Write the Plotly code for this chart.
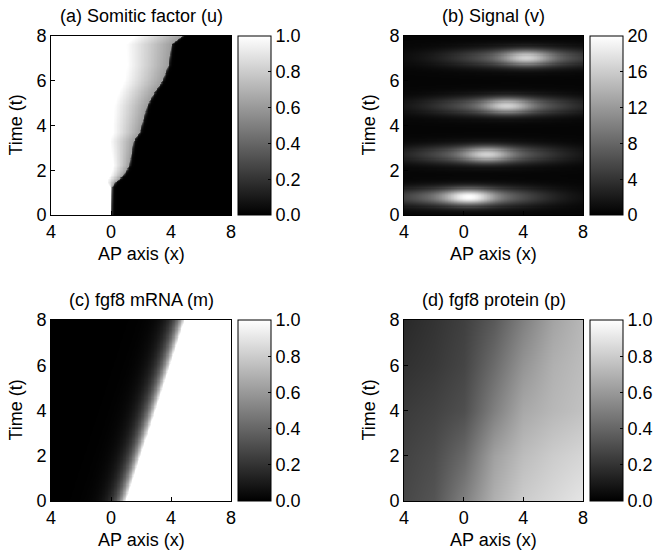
import numpy as np
import plotly.graph_objects as go

# ---- axis grids / tick labels ----
x_ticks = [-4, 0, 4, 8]
x_ticktext = ["4", "0", "4", "8"]
t_ticks = [0, 2, 4, 6, 8]
titles = ["(a) Somitic factor (u)", "(b) Signal (v)", "(c) fgf8 mRNA (m)", "(d) fgf8 protein (p)"]

# ---- (a) somitic factor: black front position ----
u_front_t = [0.0, 1.2, 1.45, 1.75, 2.2, 3.3, 3.7, 4.9, 5.4, 6.0, 6.7, 7.6, 8.0]
u_front_x = [0.0, 0.05, 0.27, 0.8, 1.2, 1.5, 1.9, 2.4, 2.8, 3.4, 3.8, 4.0, 4.7]
u_gray_t = [0.0, 1.2, 1.6, 4.0, 8.0]
u_gray_w = [0.05, 0.1, 0.75, 1.9, 3.1]
u_gray_depth = 0.38

# ---- (b) signal bands ----
v_band_t = [0.8, 2.7, 4.88, 7.03]
v_band_x = [0.35, 1.55, 2.9, 4.2]
v_band_peak = [19.5, 16.0, 16.0, 16.0]
v_background = 0.4

# ---- (c) fgf8 mRNA: white front ----
m_front_t = [0.0, 8.0]
m_front_x = [1.0, 4.9]
m_decay = 0.6

# ---- (d) fgf8 protein: grey levels read at grid points ----
p_x = [-4, -2, 0, 2, 4, 6, 8]
p_t = [0, 2, 4, 6, 8]
p_t0 = [0.28, 0.33, 0.50, 0.69, 0.80, 0.85, 0.90]
p_t2 = [0.26, 0.30, 0.41, 0.63, 0.74, 0.80, 0.84]
p_t4 = [0.23, 0.26, 0.31, 0.50, 0.66, 0.72, 0.76]
p_t6 = [0.19, 0.22, 0.27, 0.42, 0.58, 0.69, 0.74]
p_t8 = [0.16, 0.20, 0.25, 0.35, 0.50, 0.64, 0.72]

xg = np.linspace(-4, 8, 241)
tg = np.linspace(0, 8, 161)
X, T = np.meshgrid(xg, tg)

# field (a)
F = np.interp(T, u_front_t, u_front_x)
GW = np.interp(T, u_gray_t, u_gray_w)
d = F - X
left = 1 - u_gray_depth * np.clip(1 - d / GW, 0, 1) ** 1.0
right = (1 - u_gray_depth) * np.exp(-(X - F) / 0.06)
U = np.where(d > 0, left, right)

# field (b)
V = np.full_like(X, v_background)
for bt, bx, bp in zip(v_band_t, v_band_x, v_band_peak):
    core = 0.5 * np.exp(-((X - bx) ** 2) / (2 * 1.1 ** 2)) * np.exp(-((T - bt) ** 2) / (2 * 0.24 ** 2))
    sx = np.where(X < bx, 3.6, 3.4)
    wing = 0.5 * np.exp(-((X - bx) ** 2) / (2 * sx ** 2)) * np.exp(-((T - bt) ** 2) / (2 * 0.3 ** 2))
    V += bp * (core + wing)

# field (c)
MF = np.interp(T, m_front_t, m_front_x)
dm = MF - X
M = np.where(dm <= 0, 1.0, np.exp(-np.clip(dm, 0, None) / m_decay))

# field (d)
P = [p_t0, p_t2, p_t4, p_t6, p_t8]

traces_xyz = [(xg, tg, U, False), (xg, tg, V, False), (xg, tg, M, False), (p_x, p_t, P, "best")]
zmaxs = [1, 20, 1, 1]
cb_ticks = [[0, 0.2, 0.4, 0.6, 0.8, 1.0], [0, 4, 8, 12, 16, 20], [0, 0.2, 0.4, 0.6, 0.8, 1.0], [0, 0.2, 0.4, 0.6, 0.8, 1.0]]
cb_fmt = [".1f", "d", ".1f", ".1f"]

W, H = 654, 555
# pixel layout (page pixels)
px_x = [(51, 231), (404, 583), (51, 231), (404, 583)]
px_y = [(36, 215), (36, 215), (320, 501), (320, 501)]
cb_x = [238, 590, 238, 590]

gray = [[0, "black"], [1, "white"]]
font = "Liberation Sans, Arial, sans-serif"
FS = 18

fig = go.Figure()
annotations = []
for i in range(4):
    n = "" if i == 0 else str(i + 1)
    x0, x1 = px_x[i]
    y0, y1 = px_y[i]
    dom_x = [x0 / W, x1 / W]
    dom_y = [(H - y1) / H, (H - y0) / H]
    hx, hy, hz, sm = traces_xyz[i]
    fig.add_trace(go.Heatmap(
        x=hx, y=hy, z=hz, zmin=0, zmax=zmaxs[i], colorscale=gray, zsmooth=sm,
        xaxis="x" + n, yaxis="y" + n, hoverinfo="skip",
        colorbar=dict(x=cb_x[i] / W, xanchor="left", xpad=0, ypad=0,
                      y=(dom_y[0] + dom_y[1]) / 2, yanchor="middle",
                      lenmode="pixels", len=y1 - y0, thickness=33,
                      outlinewidth=1, outlinecolor="black",
                      tickvals=cb_ticks[i], tickformat=cb_fmt[i],
                      ticks="inside", ticklen=3, tickcolor="black",
                      tickfont=dict(size=FS, color="black", family=font)),
    ))
    common = dict(showgrid=False, zeroline=False, showline=True, linecolor="black",
                  linewidth=1, mirror=True, ticks="inside", ticklen=4, tickcolor="black",
                  tickfont=dict(size=FS, color="black", family=font))
    fig.layout["xaxis" + n] = dict(domain=dom_x, range=[-4, 8], tickvals=x_ticks,
                                   ticktext=x_ticktext, anchor="y" + n, **common)
    fig.layout["yaxis" + n] = dict(domain=dom_y, range=[0, 8], tickvals=t_ticks,
                                   anchor="x" + n, **common)
    cx = (dom_x[0] + dom_x[1]) / 2
    annotations.append(dict(text=titles[i], x=cx, y=(H - (y0 - 20)) / H,
                            xref="paper", yref="paper", showarrow=False,
                            xanchor="center", yanchor="middle",
                            font=dict(size=FS, color="black", family=font)))
    annotations.append(dict(text="AP axis (x)", x=cx, y=(H - (y1 + 39)) / H,
                            xref="paper", yref="paper", showarrow=False,
                            xanchor="center", yanchor="middle",
                            font=dict(size=FS, color="black", family=font)))
    annotations.append(dict(text="Time (t)", x=(x0 - 36) / W, y=(dom_y[0] + dom_y[1]) / 2,
                            xref="paper", yref="paper", showarrow=False, textangle=-90,
                            xanchor="center", yanchor="middle",
                            font=dict(size=FS, color="black", family=font)))

fig.update_layout(width=W, height=H, margin=dict(l=0, r=0, t=0, b=0, autoexpand=False),
                  paper_bgcolor="white", plot_bgcolor="white",
                  annotations=annotations, showlegend=False)
fig.write_html("out.html", config={"displayModeBar": False, "staticPlot": True},
               post_script="document.body.style.margin='0px';")
